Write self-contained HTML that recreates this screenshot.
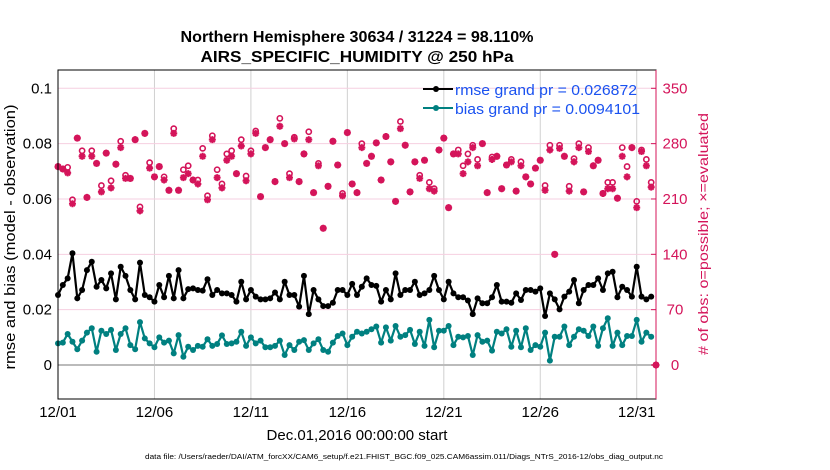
<!DOCTYPE html>
<html><head><meta charset="utf-8"><style>
html,body{margin:0;padding:0;background:#fff;}
svg{display:block;font-family:"Liberation Sans",Arial,sans-serif;}
</style></head><body>
<svg id="chart" width="830" height="470" viewBox="0 0 830 470" xmlns="http://www.w3.org/2000/svg">
<rect x="0" y="0" width="830" height="470" fill="#fff"/>
<text x="357" y="42" text-anchor="middle" font-size="15.5" font-weight="bold" fill="#000" textLength="353" lengthAdjust="spacingAndGlyphs">Northern Hemisphere 30634 / 31224 = 98.110%</text>
<text x="357" y="62" text-anchor="middle" font-size="15.5" font-weight="bold" fill="#000" textLength="313" lengthAdjust="spacingAndGlyphs">AIRS_SPECIFIC_HUMIDITY @ 250 hPa</text>
<g id="grid"></g>
<g id="marks"></g>
<rect x="58" y="70" width="598" height="329" fill="none" stroke="#000" stroke-width="1"/>
<line x1="656" y1="70" x2="656" y2="399" stroke="#d4145a" stroke-width="1"/>
<g id="axes"></g>
<text x="357" y="440" text-anchor="middle" font-size="15" fill="#000">Dec.01,2016 00:00:00 start</text>
<text transform="translate(15,237) rotate(-90)" text-anchor="middle" font-size="15" fill="#000" textLength="265" lengthAdjust="spacingAndGlyphs">rmse and bias (model - observation)</text>
<text transform="translate(708,234) rotate(-90)" text-anchor="middle" font-size="14" fill="#d4145a" textLength="242" lengthAdjust="spacingAndGlyphs"># of obs: o=possible; ×=evaluated</text>
<text x="145" y="459" font-size="7.5" fill="#000" textLength="518" lengthAdjust="spacingAndGlyphs">data file: /Users/raeder/DAI/ATM_forcXX/CAM6_setup/f.e21.FHIST_BGC.f09_025.CAM6assim.011/Diags_NTrS_2016-12/obs_diag_output.nc</text>
<g>
<line x1="423" y1="89" x2="453" y2="89" stroke="#000" stroke-width="2"/><circle cx="436" cy="89" r="3" fill="#000"/>
<text x="455" y="95" font-size="15" fill="#1a52f0" textLength="182" lengthAdjust="spacingAndGlyphs">rmse grand pr = 0.026872</text>
<line x1="423" y1="108" x2="453" y2="108" stroke="#008080" stroke-width="2"/><circle cx="436" cy="108" r="3" fill="#008080"/>
<text x="455" y="114" font-size="15" fill="#1a52f0" textLength="185" lengthAdjust="spacingAndGlyphs">bias grand pr = 0.0094101</text>
</g>
</svg>
<script>
const rmse=[.0253,.0289,.0313,.0404,.0241,.0271,.0343,.0373,.0283,.0307,.0277,.0331,.0237,.0355,.0322,.0271,.0237,.0370,.0253,.0245,.0229,.0289,.0245,.0322,.0241,.0343,.0241,.0274,.0277,.0271,.0269,.0310,.0253,.0271,.0259,.0259,.0253,.0229,.0301,.0237,.0271,.0247,.0237,.0237,.0241,.0262,.0237,.0301,.0253,.0253,.0211,.0322,.0184,.0271,.0237,.0213,.0213,.0225,.0271,
.0271,.0253,.0293,.0253,.0283,.0313,.0289,.0286,.0229,.0271,.0237,.0331,.0253,.0271,.0271,.0301,.0253,.0259,.0271,.0322,.0271,.0237,.0301,.0259,.0245,.0245,.0233,.0184,.0241,.0223,.0223,.0245,.0289,.0229,.0229,.0225,.0259,.0235,.0271,.0271,.0265,.0277,.0177,.0259,.0237,.0201,.0247,.0265,.0307,.0223,.0271,.0289,.0289,.0313,.0271,.0331,.0337,.0245,.0283,.0271,.0247,.0355,.0247,.0237,.0247];
const bias=[.0078,.0081,.0112,.0084,.0057,.0088,.0117,.0133,.0048,.0124,.0112,.0127,.0054,.0112,.0133,.0072,.0057,.0155,.0096,.0078,.0064,.0100,.0081,.0088,.0042,.0108,.0030,.0066,.0054,.0069,.0066,.0093,.0069,.0076,.0107,.0076,.0078,.0084,.0120,.0069,.0100,.0078,.0088,.0064,.0064,.0069,.0088,.0036,.0072,.0054,.0084,.0090,.0054,.0078,.0093,.0054,.0048,.0081,.0105,.0114,.0072,.0102,.0120,
.0114,.0120,.0129,.0139,.0081,.0136,.0088,.0141,.0102,.0108,.0127,.0076,.0120,.0069,.0163,.0064,.0124,.0124,.0141,.0072,.0102,.0100,.0105,.0036,.0108,.0084,.0088,.0052,.0120,.0114,.0129,.0066,.0124,.0064,.0133,.0054,.0072,.0066,.0117,.0016,.0102,.0102,.0139,.0072,.0102,.0129,.0124,.0105,.0139,.0069,.0133,.0169,.0069,.0117,.0072,.0105,.0105,.0163,.0084,.0117,.0102];
const evaluated=[251,248,243,204,287,264,212,264,255,219,268,224,254,275,236,236,285,195,293,249,238,251,234,221,293,221,237,242,234,229,264,209,285,237,224,259,264,242,277,233,267,293,213,275,285,232,302,280,237,286,232,267,285,218,252,173,226,283,253,214,294,229,218,275,255,264,281,234,289,257,207,299,278,219,257,236,259,223,220,272,287,199,267,267,242,257,275,252,280,218,260,264,223,253,257,220,252,238,229,249,259,221,272,140,274,264,220,257,275,219,270,252,259,217,223,223,211,264,238,275,199,270,252,225,0];
const possible=[251,248,250,209,287,271,212,271,255,227,268,233,254,283,240,236,285,200,293,256,238,251,238,221,299,221,247,252,234,234,274,214,290,247,229,267,271,242,285,239,271,296,213,275,285,232,312,280,242,288,232,267,295,218,255,173,226,283,253,217,294,229,218,280,255,264,281,234,289,257,207,308,278,219,257,240,259,231,223,272,287,199,267,272,252,267,278,260,280,218,263,264,223,253,260,220,257,238,229,249,259,227,278,140,278,264,226,261,280,219,275,252,259,217,231,231,211,275,251,275,207,272,260,231,0];
const dateTicks=["12/01","12/06","12/11","12/16","12/21","12/26","12/31"];
const leftTicks=[0,0.02,0.04,0.06,0.08,0.1];
const rightTicks=[0,70,140,210,280,350];

const NS="http://www.w3.org/2000/svg";
const X0=58,X1=656,D0=0,D1=31;
const xs=d=>X0+(d-D0)/(D1-D0)*(X1-X0);
const yL=v=>365-v/0.1*276.7;
const yR=c=>365-c/350*276.7;
const PINK="#d4145a";
function mk(tag,attrs,parent){const e=document.createElementNS(NS,tag);for(const k in attrs)e.setAttribute(k,attrs[k]);parent.appendChild(e);return e;}
const grid=document.getElementById('grid'),marks=document.getElementById('marks'),axes=document.getElementById('axes');
dateTicks.forEach((t,i)=>{const x=xs(i*5);
 const g=mk('line',{x1:x,y1:70,x2:x,y2:399,stroke:'#d0d0d0','stroke-width':1},grid);
 
 
 const tl=mk('text',{x:x,y:417,'text-anchor':'middle','font-size':15,fill:'#000'},axes);tl.textContent=t;
 
 
});
leftTicks.forEach(v=>{const y=yL(v);
 const g=mk('line',{x1:X0,y1:y,x2:X1,y2:y,stroke:v===0?'#bbb':'#f6cfe0','stroke-width':v===0?2:1},grid);
 
 
 const tl=mk('text',{x:52,y:y+5,'text-anchor':'end','font-size':15,fill:'#000'},axes);tl.textContent=v===0?'0':String(v);
 
 
});
rightTicks.forEach(c=>{const y=yR(c);
 const tk=mk('line',{x1:X1-5,y1:y,x2:X1,y2:y,stroke:PINK},axes);
 
 
 const tl=mk('text',{x:675,y:y+5,'text-anchor':'middle','font-size':15,fill:PINK},axes);tl.textContent=String(c);
 
 
});
possible.forEach((c,i)=>{const x=xs(i/4),y=yR(c);
 const o=mk('circle',{cx:x,cy:y,r:2.6,fill:'none',stroke:PINK,'stroke-width':1.6},marks);
 
 
});
evaluated.forEach((c,i)=>{const x=xs(i/4),y=yR(c);
 const s=mk('path',{d:`M${x-3.5},${y}H${x+3.5}M${x},${y-3.5}V${y+3.5}M${x-2.5},${y-2.5}L${x+2.5},${y+2.5}M${x-2.5},${y+2.5}L${x+2.5},${y-2.5}`,stroke:PINK,'stroke-width':2},marks);
 
 
});
function series(arr,color,name){
 const pts=arr.map((v,i)=>xs(i/4)+','+yL(v)).join(' ');
 const l=mk('polyline',{points:pts,fill:'none',stroke:color,'stroke-width':2.2,'stroke-linejoin':'round'},marks);
 
 
 arr.forEach((v,i)=>{const c=mk('circle',{cx:xs(i/4),cy:yL(v),r:3,fill:color},marks);
  
  
 });
}
series(bias,'#008080','bias');
series(rmse,'#000','rmse');
</script>
</body></html>
